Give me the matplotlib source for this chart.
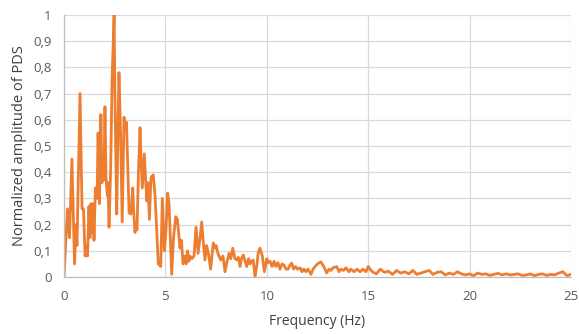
import matplotlib
matplotlib.use("Agg")
import matplotlib.pyplot as plt
from matplotlib.ticker import FuncFormatter, MultipleLocator

# spectrum (Hz, normalized amplitude)
freq_low = [0.0, 0.17, 0.27, 0.39, 0.52, 0.59, 0.64, 0.79, 0.89, 0.96,
            1.04, 1.11, 1.16, 1.23, 1.28, 1.33, 1.38, 1.43, 1.48, 1.55,
            1.63, 1.68, 1.75, 1.82, 1.87, 1.92, 1.97, 2.02, 2.07, 2.14,
            2.17, 2.22, 2.30, 2.37, 2.47, 2.51, 2.60, 2.66, 2.71, 2.79,
            2.87, 2.96, 3.01, 3.08, 3.21, 3.30, 3.39, 3.43, 3.50, 3.55,
            3.60, 3.67, 3.75, 3.80, 3.86, 3.96]
amp_low = [0.0, 0.26, 0.15, 0.45, 0.05, 0.20, 0.12, 0.70, 0.26, 0.26,
           0.08, 0.12, 0.08, 0.27, 0.15, 0.28, 0.17, 0.28, 0.14, 0.34,
           0.30, 0.55, 0.28, 0.62, 0.36, 0.43, 0.37, 0.65, 0.38, 0.31,
           0.36, 0.19, 0.41, 0.75, 1.0, 0.70, 0.24, 0.55, 0.78, 0.55,
           0.21, 0.61, 0.56, 0.59, 0.245, 0.24, 0.34, 0.26, 0.17, 0.20,
           0.18, 0.40, 0.57, 0.45, 0.34, 0.47]

freq_mid = [4.08, 4.14, 4.21, 4.29, 4.40, 4.49, 4.56, 4.65, 4.77, 4.85,
            4.95, 5.03, 5.11, 5.18, 5.31, 5.40, 5.51, 5.59, 5.72, 5.79,
            5.87, 5.97, 6.02, 6.09, 6.16, 6.21, 6.31, 6.41, 6.51, 6.61,
            6.71, 6.79, 6.85, 6.95, 7.03, 7.12, 7.23, 7.36, 7.45, 7.50,
            7.59, 7.73, 7.84, 7.94, 8.04, 8.14, 8.23, 8.32, 8.43, 8.52,
            8.60, 8.68, 8.75, 8.84, 8.93, 9.01, 9.10, 9.17, 9.25, 9.33,
            9.42, 9.52, 9.57, 9.66, 9.78, 9.88, 10.0]
amp_mid = [0.29, 0.36, 0.22, 0.38, 0.39, 0.31, 0.20, 0.05, 0.04, 0.30,
           0.10, 0.18, 0.32, 0.28, 0.01, 0.15, 0.23, 0.22, 0.11, 0.14,
           0.05, 0.08, 0.05, 0.10, 0.06, 0.08, 0.07, 0.08, 0.19, 0.09,
           0.15, 0.21, 0.15, 0.065, 0.12, 0.09, 0.03, 0.13, 0.11, 0.12,
           0.09, 0.065, 0.08, 0.02, 0.06, 0.09, 0.07, 0.11, 0.07, 0.065,
           0.075, 0.04, 0.07, 0.084, 0.06, 0.04, 0.07, 0.05, 0.06, 0.065,
           0.0, 0.05, 0.09, 0.11, 0.08, 0.02, 0.07]

freq_high = [10.06, 10.16, 10.26, 10.36, 10.45, 10.55, 10.65, 10.75, 10.85, 10.95,
             11.05, 11.14, 11.23, 11.32, 11.42, 11.51, 11.64, 11.74, 11.83, 11.93,
             12.03, 12.18, 12.28, 12.38, 12.50, 12.66, 12.77, 12.87, 12.95, 13.07,
             13.17, 13.26, 13.45, 13.56, 13.66, 13.78, 13.91, 14.05, 14.15, 14.30,
             14.45, 14.60, 14.74, 14.89, 15.0, 15.09]
amp_high = [0.055, 0.06, 0.04, 0.06, 0.04, 0.055, 0.03, 0.05, 0.045, 0.03,
            0.03, 0.045, 0.053, 0.03, 0.04, 0.03, 0.035, 0.02, 0.03, 0.02,
            0.03, 0.01, 0.03, 0.04, 0.05, 0.058, 0.045, 0.03, 0.015, 0.03,
            0.025, 0.035, 0.04, 0.02, 0.03, 0.025, 0.035, 0.02, 0.03, 0.02,
            0.03, 0.02, 0.03, 0.02, 0.04, 0.03]

freq_tail = [15.2, 15.4, 15.6, 15.8, 16.0, 16.2, 16.4, 16.6, 16.8, 17.0,
             17.2, 17.4, 17.6, 17.8, 18.0, 18.2, 18.4, 18.6, 18.8, 19.0,
             19.2, 19.4, 19.6, 19.8, 20.0, 20.2, 20.4, 20.6, 20.8, 21.0,
             21.2, 21.4, 21.6, 21.8, 22.0, 22.2, 22.4, 22.6, 22.8, 23.0,
             23.2, 23.4, 23.6, 23.8, 24.0, 24.2, 24.4, 24.6, 24.8, 25.0]
amp_tail = [0.02, 0.012, 0.03, 0.018, 0.022, 0.01, 0.025, 0.015, 0.02, 0.012,
            0.025, 0.01, 0.015, 0.02, 0.025, 0.01, 0.018, 0.02, 0.008, 0.015,
            0.01, 0.02, 0.012, 0.008, 0.012, 0.005, 0.015, 0.01, 0.012, 0.006,
            0.01, 0.014, 0.008, 0.012, 0.008, 0.01, 0.012, 0.006, 0.008, 0.012,
            0.005, 0.01, 0.012, 0.006, 0.01, 0.008, 0.015, 0.02, 0.005, 0.01]

freq = freq_low + freq_mid + freq_high + freq_tail
amp = amp_low + amp_mid + amp_high + amp_tail

plt.rcParams['font.family'] = ['Open Sans', 'DejaVu Sans']

fig = plt.figure(figsize=(5.79, 3.34), dpi=100)
ax = fig.add_axes([64 / 579, 57 / 334, 507 / 579, 262 / 334])

ax.plot(freq, amp, color='#ED7D31', lw=2.0, solid_joinstyle='round')

ax.set_xlim(0, 25)
ax.set_ylim(0, 1)
ax.xaxis.set_major_locator(MultipleLocator(5))
ax.yaxis.set_major_locator(MultipleLocator(0.1))
ax.yaxis.set_major_formatter(FuncFormatter(
    lambda v, p: '0' if abs(v) < 1e-9 else ('1' if abs(v - 1) < 1e-9 else ('%.1f' % v).replace('.', ','))))

ax.grid(True, color='#D9D9D9', lw=0.9)
ax.set_axisbelow(True)
for s in ['top', 'right']:
    ax.spines[s].set_visible(False)
for s in ['left', 'bottom']:
    ax.spines[s].set_color('#BFBFBF')
    ax.spines[s].set_linewidth(0.9)
ax.tick_params(length=0, labelsize=9.5, colors='#595959')
ax.tick_params(axis='y', pad=9)
ax.tick_params(axis='x', pad=9)

ax.set_xlabel('Frequency (Hz)', fontsize=10, color='#404040', labelpad=8)
ax.set_ylabel('Normalized amplitude of PDS', fontsize=10.5, color='#404040', labelpad=4)

fig.savefig('out.png', dpi=100)
